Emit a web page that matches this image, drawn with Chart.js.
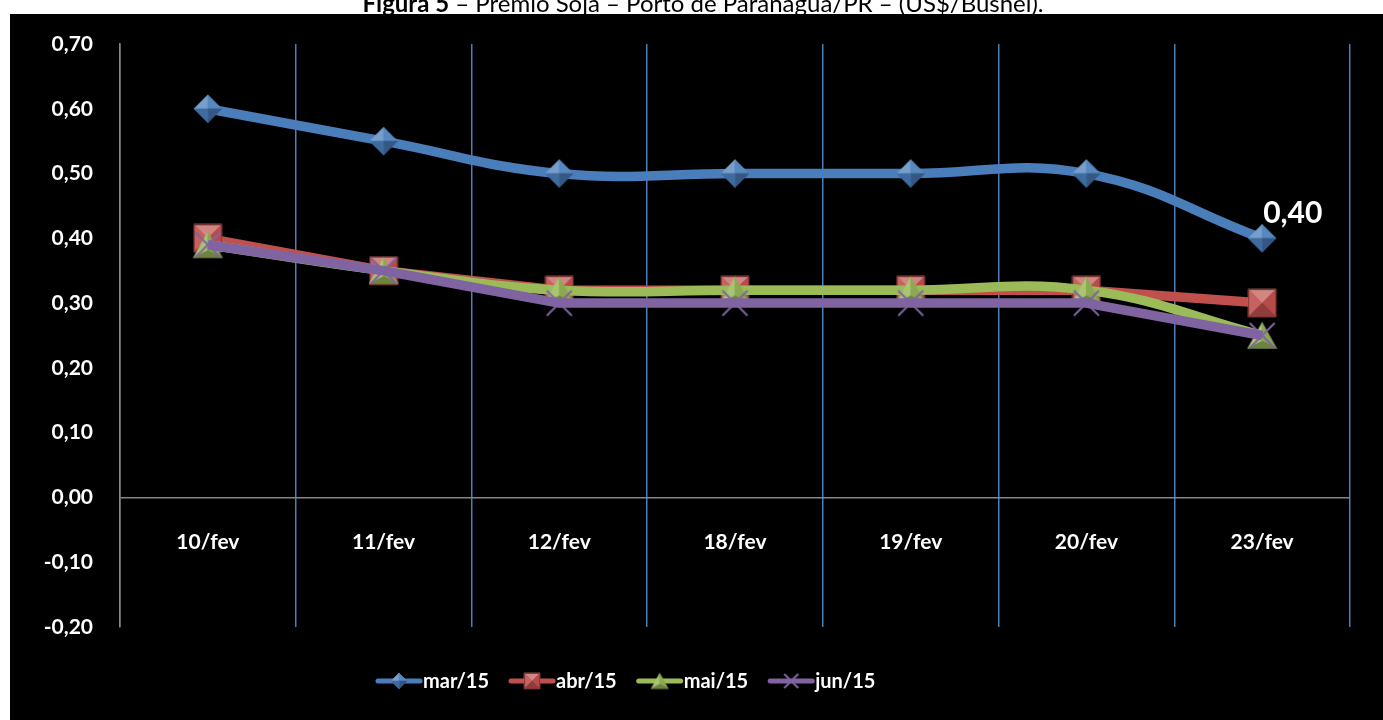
<!DOCTYPE html>
<html>
<head>
<meta charset="utf-8">
<script src="https://cdn.jsdelivr.net/npm/chart.js@4/dist/chart.umd.min.js"></script>
<style>
  html, body { margin: 0; padding: 0; background: #fff; }
  canvas { display: block; }
</style>
</head>
<body>
<canvas id="c" width="1383" height="720"></canvas>
<script>
// Soybean premium, Paranaguá port (US$/bushel), by contract month
const categories = ['10/fev', '11/fev', '12/fev', '18/fev', '19/fev', '20/fev', '23/fev'];
const mar15 = [0.60, 0.55, 0.50, 0.50, 0.50, 0.50, 0.40];
const abr15 = [0.40, 0.35, 0.32, 0.32, 0.32, 0.32, 0.30];
const mai15 = [0.39, 0.35, 0.32, 0.32, 0.32, 0.32, 0.25];
const jun15 = [0.39, 0.35, 0.30, 0.30, 0.30, 0.30, 0.25];
const seriesNames = ['mar/15', 'abr/15', 'mai/15', 'jun/15'];
const yTicks = [-0.2, -0.1, 0, 0.1, 0.2, 0.3, 0.4, 0.5, 0.6, 0.7];
const titleText = 'Figura 5 – Prêmio Soja – Porto de Paranaguá/PR – (US$/Bushel).';

const FONT = 'Lato, "Open Sans", sans-serif';
const GRID_BLUE = '#4a7ebb';
const AXIS_GRAY = '#868686';
const fmt = v => v.toFixed(2).replace('.', ',');

function shade(hex, amt) {
  // amt > 0 mixes toward white, amt < 0 toward black
  const n = parseInt(hex.slice(1), 16);
  let r = n >> 16, g = (n >> 8) & 255, b = n & 255;
  const t = amt > 0 ? 255 : 0, a = Math.abs(amt);
  r = Math.round(r + (t - r) * a); g = Math.round(g + (t - g) * a); b = Math.round(b + (t - b) * a);
  return `rgb(${r},${g},${b})`;
}

function facet(ctx, pts, color) {
  ctx.beginPath();
  ctx.moveTo(pts[0][0], pts[0][1]);
  for (let i = 1; i < pts.length; i++) ctx.lineTo(pts[i][0], pts[i][1]);
  ctx.closePath();
  ctx.fillStyle = color;
  ctx.fill();
  ctx.strokeStyle = color;
  ctx.lineWidth = 0.6;
  ctx.stroke();
}

// bevelled marker glyphs
function makeMarker(type, size, color) {
  const cv = document.createElement('canvas');
  const w = size + 2, h = size + 2;
  cv.width = w; cv.height = h;
  const ctx = cv.getContext('2d');
  const o = 1, s = size, c = o + s / 2;
  if (type === 'diamond') {
    const T = [c, o], R = [o + s, c], B = [c, o + s], L = [o, c], C = [c, c];
    facet(ctx, [L, T, C], shade(color, 0.25));
    facet(ctx, [T, R, C], shade(color, 0.08));
    facet(ctx, [R, B, C], shade(color, -0.3));
    facet(ctx, [B, L, C], shade(color, -0.15));
  } else if (type === 'square') {
    const TL = [o, o], TR = [o + s, o], BR = [o + s, o + s], BL = [o, o + s], C = [c, c];
    facet(ctx, [TL, TR, C], shade(color, 0.3));
    facet(ctx, [TL, BL, C], shade(color, 0.1));
    facet(ctx, [TR, BR, C], shade(color, -0.05));
    facet(ctx, [BL, BR, C], shade(color, -0.25));
    ctx.strokeStyle = shade(color, -0.3);
    ctx.lineWidth = 1;
    ctx.strokeRect(o + 0.5, o + 0.5, s - 1, s - 1);
  } else if (type === 'triangle') {
    const th = s * 0.9, top = o + (s - th) / 2;
    const A = [c, top], BL = [o, top + th], BR = [o + s, top + th], C = [c, top + th * 0.72];
    facet(ctx, [A, BL, C], shade(color, 0.15));
    facet(ctx, [A, BR, C], shade(color, -0.1));
    facet(ctx, [BL, BR, C], shade(color, -0.3));
  } else {
    const d = s / 2 - 1;
    ctx.strokeStyle = color;
    ctx.lineWidth = 2;
    ctx.beginPath();
    ctx.moveTo(c - d, c - d); ctx.lineTo(c + d, c + d);
    ctx.moveTo(c + d, c - d); ctx.lineTo(c - d, c + d);
    ctx.stroke();
  }
  return cv;
}

const styles = [
  { color: '#4a7ebb', marker: 'diamond',  size: 28, legendSize: 16, smooth: 0.42 },
  { color: '#c0504d', marker: 'square',   size: 28, legendSize: 16, smooth: 0 },
  { color: '#9bbb59', marker: 'triangle', size: 29, legendSize: 17, smooth: 0.42 },
  { color: '#8064a2', marker: 'cross',    size: 27, legendSize: 16, smooth: 0 }
];
styles.forEach(st => {
  st.img = makeMarker(st.marker, st.size, st.color);
  st.legendImg = makeMarker(st.marker, st.legendSize, st.color);
});
const seriesData = [mar15, abr15, mai15, jun15];

const datasets = seriesData.map((d, i) => ({
  label: seriesNames[i],
  data: d,
  borderColor: styles[i].color,
  backgroundColor: styles[i].color,
  borderWidth: 9.5,
  tension: styles[i].smooth,
  borderJoinStyle: 'round',
  pointStyle: styles[i].img,
  pointRadius: 13,
  pointHoverRadius: 13,
  order: seriesData.length - i
}));

const framePlugin = {
  id: 'frame',
  beforeDraw(chart) {
    const ctx = chart.ctx;
    ctx.save();
    ctx.fillStyle = '#ffffff';
    ctx.fillRect(0, 0, chart.width, chart.height);
    ctx.fillStyle = '#000000';
    ctx.fillRect(10, 14, chart.width - 10, chart.height - 14);
    // caption above the panel
    ctx.fillStyle = '#000';
    ctx.textBaseline = 'alphabetic';
    ctx.textAlign = 'left';
    const boldPart = 'Figura 5';
    const rest = titleText.slice(boldPart.length);
    ctx.font = 'bold 24px ' + FONT;
    const wb = ctx.measureText(boldPart).width;
    ctx.font = '24px ' + FONT;
    const wr = ctx.measureText(rest).width;
    const x0 = 703 - (wb + wr) / 2;
    ctx.font = 'bold 24px ' + FONT;
    ctx.fillText(boldPart, x0, 12);
    ctx.font = '24px ' + FONT;
    ctx.fillText(rest, x0 + wb, 12);
    ctx.fillStyle = '#000000';
    ctx.fillRect(10, 14, chart.width - 10, 4);
    ctx.restore();
  }
};

const labelsPlugin = {
  id: 'extraLabels',
  afterDatasetsDraw(chart) {
    const ctx = chart.ctx;
    const xs = chart.scales.x, ys = chart.scales.y;
    ctx.save();
    // category labels below the zero line
    ctx.fillStyle = '#fff';
    ctx.font = 'bold 21px ' + FONT;
    ctx.textAlign = 'center';
    ctx.textBaseline = 'middle';
    const y0 = ys.getPixelForValue(0);
    categories.forEach((c, i) => ctx.fillText(c, xs.getPixelForValue(i), y0 + 45));
    // value label on the last mar/15 point
    const meta = chart.getDatasetMeta(0);
    const last = meta.data[meta.data.length - 1];
    ctx.font = 'bold 30px ' + FONT;
    ctx.textAlign = 'left';
    ctx.textBaseline = 'alphabetic';
    ctx.fillText(fmt(mar15[mar15.length - 1]), last.x + 1, last.y - 15);
    ctx.restore();
  },
  afterDraw(chart) {
    // legend: line sample with marker, then series name
    const ctx = chart.ctx;
    ctx.save();
    ctx.font = 'bold 20px ' + FONT;
    ctx.textBaseline = 'middle';
    ctx.textAlign = 'left';
    const yL = 681;
    let x = 378;
    datasets.forEach((ds, i) => {
      const st = styles[i];
      ctx.strokeStyle = st.color;
      ctx.lineWidth = 5;
      ctx.lineCap = 'round';
      ctx.beginPath();
      ctx.moveTo(x, yL);
      ctx.lineTo(x + 42, yL);
      ctx.stroke();
      const im = st.legendImg;
      ctx.drawImage(im, x + 21 - im.width / 2, yL - im.height / 2);
      ctx.fillStyle = '#fff';
      ctx.fillText(ds.label, x + 45, yL + 1);
      x += 45 + ctx.measureText(ds.label).width + 22;
    });
    ctx.restore();
  }
};

new Chart(document.getElementById('c'), {
  type: 'line',
  data: { labels: categories, datasets },
  options: {
    responsive: false,
    animation: false,
    events: [],
    layout: { padding: { left: 0, top: 44, right: 33, bottom: 93 } },
    plugins: { legend: { display: false }, tooltip: { enabled: false } },
    scales: {
      x: {
        z: 1,
        offset: true,
        grid: {
          offset: true,
          drawTicks: false,
          lineWidth: 1.5,
          color: c => (c.index === 0 ? AXIS_GRAY : GRID_BLUE)
        },
        border: { display: false },
        ticks: { display: false },
        afterFit: s => { s.height = 0; }
      },
      y: {
        min: -0.2,
        max: 0.7,
        afterBuildTicks: s => { s.ticks = yTicks.map(v => ({ value: v })); },
        afterFit: s => { s.width = 120; },
        grid: {
          drawTicks: false,
          lineWidth: 1.5,
          color: c => (c.tick && Math.abs(c.tick.value) < 1e-9 ? AXIS_GRAY : 'rgba(0,0,0,0)')
        },
        border: { display: true, color: AXIS_GRAY, width: 1.5 },
        ticks: {
          padding: 27,
          color: '#fff',
          font: { family: FONT, size: 21, weight: 'bold' },
          callback: v => fmt(v)
        }
      }
    }
  },
  plugins: [framePlugin, labelsPlugin]
});
</script>
</body>
</html>
